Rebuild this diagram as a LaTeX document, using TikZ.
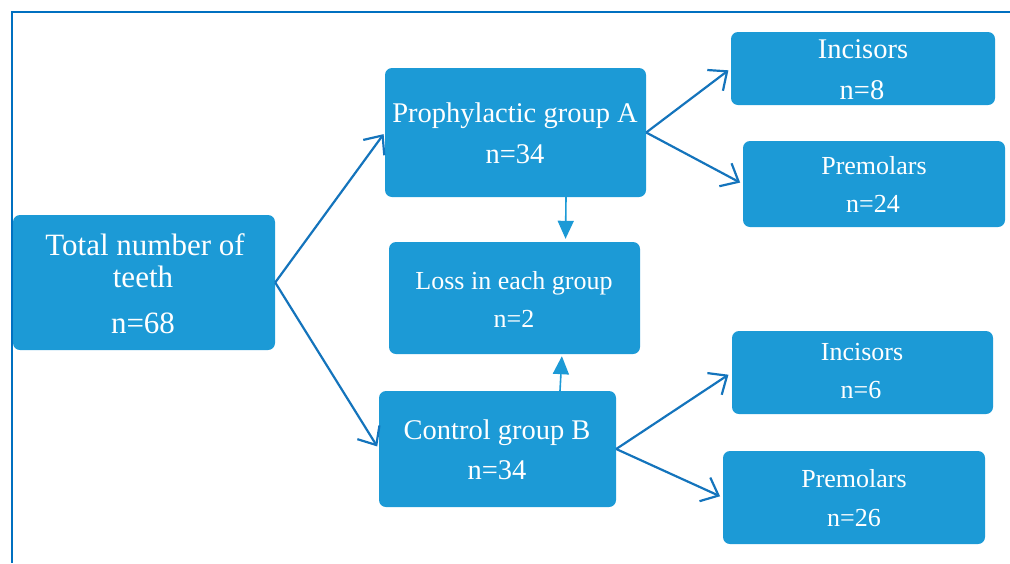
\documentclass[tikz,border=0pt]{standalone}
\usepackage{fontspec}
\setmainfont{Liberation Serif}
\usetikzlibrary{arrows.meta}
\definecolor{boxblue}{HTML}{1C9AD6}
\definecolor{arrblue}{HTML}{1474BC}
\definecolor{frameblue}{HTML}{0070C0}
\tikzset{
  box/.style={fill=boxblue, draw=none, rounded corners=7pt, inner sep=0pt},
  txt/.style={text=white, inner sep=0pt, text depth=0pt},
  fa/.style={font=\fontsize{31}{32}\selectfont, text height=20pt},
  fb/.style={font=\fontsize{28.5}{30}\selectfont, text height=19pt},
  fc/.style={font=\fontsize{26}{28}\selectfont, text height=17pt},
  conn/.style={draw=arrblue, line width=2.2pt, -{Straight Barb[length=15pt,width=26pt]}},
  sconn/.style={draw=boxblue, line width=1.6pt, -{Triangle[length=18pt,width=16pt]}},
}
\begin{document}
\begin{tikzpicture}[x=1pt,y=-1pt]
\useasboundingbox (0,0) rectangle (1010,563);
\draw[frameblue, line width=2pt] (1010,12) -- (12,12) -- (12,563);
% boxes
\node[box, minimum width=262pt, minimum height=135pt] (tot) at (144,282.5) {};
\node[box, minimum width=261pt, minimum height=129pt] (A) at (515.5,132.5) {};
\node[box, minimum width=251pt, minimum height=112pt] (loss) at (514.5,298) {};
\node[box, minimum width=237pt, minimum height=116pt] (B) at (497.5,449) {};
\node[box, minimum width=264pt, minimum height=73pt] (inc1) at (863,68.5) {};
\node[box, minimum width=262pt, minimum height=86pt] (pre1) at (874,184) {};
\node[box, minimum width=261pt, minimum height=83pt] (inc2) at (862.5,372.5) {};
\node[box, minimum width=262pt, minimum height=93pt] (pre2) at (854,497.5) {};
% texts
\node[txt,fa] (t1) at (145,245) {Total number of};
\node[txt,fa] (t2) at (143,277) {teeth};
\node[txt,fa] (t3) at (143,323) {n=68};
\node[txt,fb] (a1) at (515,113) {Prophylactic group A};
\node[txt,fb] (a2) at (515,154) {n=34};
\node[txt,fc] (l1) at (514,281) {Loss in each group};
\node[txt,fc] (l2) at (514,319) {n=2};
\node[txt,fb] (b1) at (497,430) {Control group B};
\node[txt,fb] (b2) at (497,470) {n=34};
\node[txt,fb] (i1) at (863,49) {Incisors};
\node[txt,fb] (i2) at (862,90) {n=8};
\node[txt,fc] (p1) at (874,166) {Premolars};
\node[txt,fc] (p2) at (873,204) {n=24};
\node[txt,fc] (i3) at (862,352) {Incisors};
\node[txt,fc] (i4) at (861,390) {n=6};
\node[txt,fc] (p3) at (854,479) {Premolars};
\node[txt,fc] (p4) at (854,518) {n=26};
% connectors
\draw[conn, shorten >=2pt] (tot.east) -- (A.west);
\draw[conn, shorten >=3pt] (tot.east) -- (B.west);
\draw[conn, shorten >=3pt] (A.east) -- (inc1.west);
\draw[conn, shorten >=3pt] (A.east) -- (pre1.west);
\draw[conn, shorten >=4pt] (B.east) -- (inc2.west);
\draw[conn, shorten >=3pt] (B.east) -- (pre2.west);
\draw[sconn, shorten >=3pt] ([xshift=50.5pt]A.south) -- ([xshift=51pt]loss.north);
\draw[sconn, shorten >=2pt] ([xshift=62.5pt]B.north) -- ([xshift=47.5pt]loss.south);
\end{tikzpicture}
\end{document}
